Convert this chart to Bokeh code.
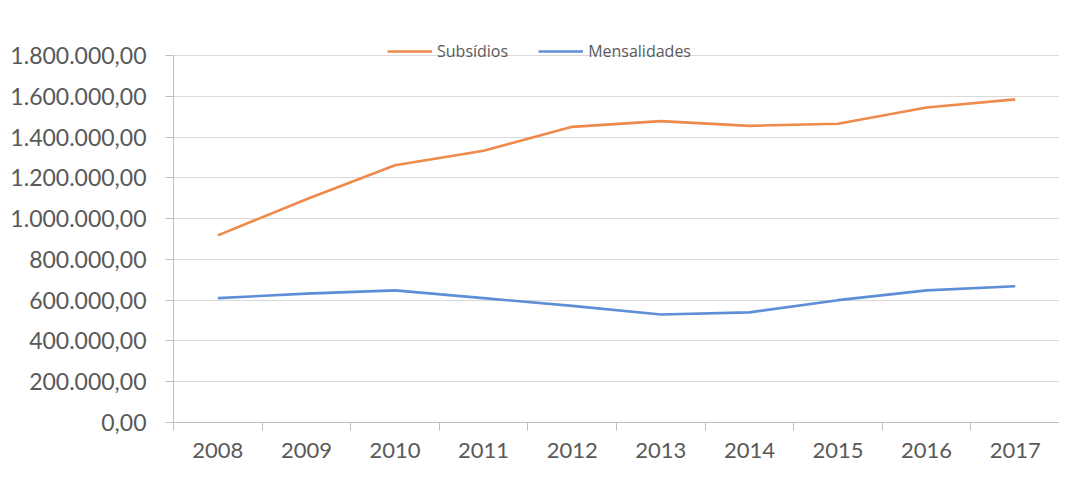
from bokeh.plotting import figure
from bokeh.models import Range1d, FixedTicker, Legend, LegendItem
from bokeh.embed import file_html
from bokeh.resources import INLINE

years = [2008, 2009, 2010, 2011, 2012, 2013, 2014, 2015, 2016, 2017]
subsidios = [918000, 1095000, 1262000, 1333000, 1450000, 1478000, 1455000, 1465000, 1545000, 1585000]
mensalidades = [610000, 632000, 648000, 610000, 572000, 530000, 540000, 600000, 648000, 668000]
y_ticks = [0, 200000, 400000, 600000, 800000, 1000000, 1200000, 1400000, 1600000, 1800000]
y_tick_labels = ["0,00", "200.000,00", "400.000,00", "600.000,00", "800.000,00",
                 "1.000.000,00", "1.200.000,00", "1.400.000,00", "1.600.000,00", "1.800.000,00"]
x_tick_labels = [str(y) for y in years]

FONT = "Lato"
TXT = "#595959"
Y_MAX = y_ticks[-1]

p = figure(width=1059, height=462, output_backend="svg", toolbar_location=None,
           x_range=Range1d(years[0] - 0.5, years[-1] + 0.5),
           y_range=Range1d(0, Y_MAX * 388 / 367),
           min_border_left=173, min_border_right=0, min_border_top=34, min_border_bottom=40)
p.outline_line_color = None
p.background_fill_color = "white"
p.border_fill_color = "white"

r1 = p.line(years, subsidios, line_color="#EE8A4C", line_width=2.6)
r2 = p.line(years, mensalidades, line_color="#5E8FD6", line_width=2.6)

# x axis: labels at centres, tick marks at category boundaries
p.xaxis.ticker = FixedTicker(ticks=years, minor_ticks=[y - 0.5 for y in years] + [years[-1] + 0.5])
p.xaxis.major_label_overrides = {y: l for y, l in zip(years, x_tick_labels)}
p.xaxis.major_tick_line_color = None
p.xaxis.minor_tick_in = 0
p.xaxis.minor_tick_out = 8
p.xaxis.minor_tick_line_color = "#bfbfbf"
p.xaxis.axis_line_color = "#bfbfbf"
p.xaxis.major_label_text_font = FONT
p.xaxis.major_label_text_font_size = "22px"
p.xaxis.major_label_text_color = TXT
p.xaxis.major_label_standoff = 12

p.yaxis.ticker = FixedTicker(ticks=y_ticks)
p.yaxis.bounds = (0, Y_MAX)
p.yaxis.major_label_overrides = {t: l for t, l in zip(y_ticks, y_tick_labels)}
p.yaxis.major_tick_in = 0
p.yaxis.major_tick_out = 8
p.yaxis.major_tick_line_color = "#bfbfbf"
p.yaxis.minor_tick_line_color = None
p.yaxis.axis_line_color = "#bfbfbf"
p.yaxis.major_label_text_font = FONT
p.yaxis.major_label_text_font_size = "23px"
p.yaxis.major_label_text_color = TXT
p.yaxis.major_label_standoff = 19

p.xgrid.grid_line_color = None
p.ygrid.grid_line_color = "#d9d9d9"
p.ygrid.ticker = FixedTicker(ticks=y_ticks)

legend = Legend(items=[LegendItem(label="Subsídios", renderers=[r1]),
                       LegendItem(label="Mensalidades", renderers=[r2])],
                orientation="horizontal", location=(214, 360),
                background_fill_alpha=0, border_line_color=None,
                padding=0, margin=0, spacing=30, label_standoff=5,
                glyph_width=45, glyph_height=16,
                label_text_font="Open Sans", label_text_font_size="16px", label_text_color=TXT)
p.add_layout(legend, "center")

open("out.html", "w").write(file_html(p, INLINE))
